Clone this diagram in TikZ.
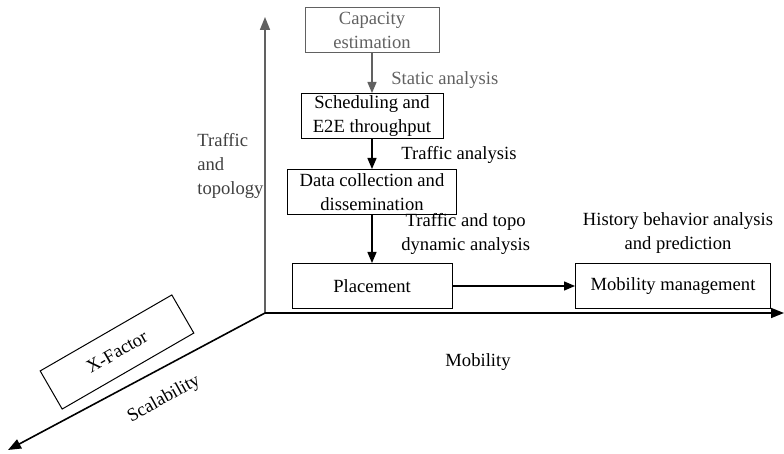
\documentclass[tikz,border=0pt]{standalone}
\usepackage{fontspec}
\setmainfont{Liberation Serif}
\usetikzlibrary{positioning,arrows.meta}

\colorlet{faded}{black!62}
\tikzstyle{b} = [rectangle, draw=black, line width=0.5pt, minimum height=22.5pt, align=center, inner sep=1pt]
\tikzstyle{lbl} = [align=center, inner sep=0pt]
\tikzstyle{ar} = [-{Triangle[length=5.5pt,width=4.5pt]}, line width=0.7pt]
\tikzstyle{axis} = [-{Triangle[length=6.5pt,width=5pt]}, line width=0.8pt]

\begin{document}
\begin{tikzpicture}[x=0.5pt,y=-0.5pt,node distance=43pt,font=\fontsize{9.3}{12}\selectfont]
\useasboundingbox (0,0) rectangle (784,454);

\node[b, draw=faded, text=faded, minimum width=67pt] (capacity) at (372,30) {Capacity\\estimation};
\node[b, minimum width=71pt] (scheduling) [below of=capacity] {Scheduling and\\E2E throughput};
\node[b, minimum width=84.5pt] (collection) [below of=scheduling, yshift=5pt] {Data collection and\\dissemination};
\node[b, minimum width=80pt] (placement) [below of=collection, yshift=-4pt] {Placement};
\node[b, minimum width=97.5pt] (mobility) [right of=placement, xshift=107.5pt] {Mobility management};

\node[b, minimum width=76pt, minimum height=22pt, rotate=30] (xfactor) at (117,352) {X-Factor};

% axes
\coordinate (origin) at (265,313);
\coordinate (zTip) at (265,17);
\coordinate (xTip) at (784,313);
\coordinate (sTip) at (8,450);
\draw[axis, draw=faded, fill=faded] (origin) -- (zTip);
\draw[axis] (origin) -- (xTip);
\draw[axis] (origin) -- (sTip);

\node[lbl, anchor=west, align=left, text=black!75] (traffic) at (197,166) {Traffic\\and\\topology};
\node[lbl] (mobilityAxis) at (478,362) {Mobility};
\node[lbl, rotate=29] (scalability) at (164,399) {Scalability};

\draw[ar, draw=faded, fill=faded] (capacity) -- (scheduling)
  node[pos=0.68, right, xshift=6pt, text=faded] () {Static analysis};
\draw[ar] (scheduling) -- (collection)
  node[pos=0.53, right, xshift=11pt] () {Traffic analysis};
\draw[ar] (collection) -- (placement)
  node[pos=0.39, right, xshift=11pt, align=center] () {Traffic and topo\\dynamic analysis};
\draw[ar] (placement) -- (mobility);

\node[lbl] (history) at (678,233) {History behavior analysis\\and prediction};

\end{tikzpicture}
\end{document}
